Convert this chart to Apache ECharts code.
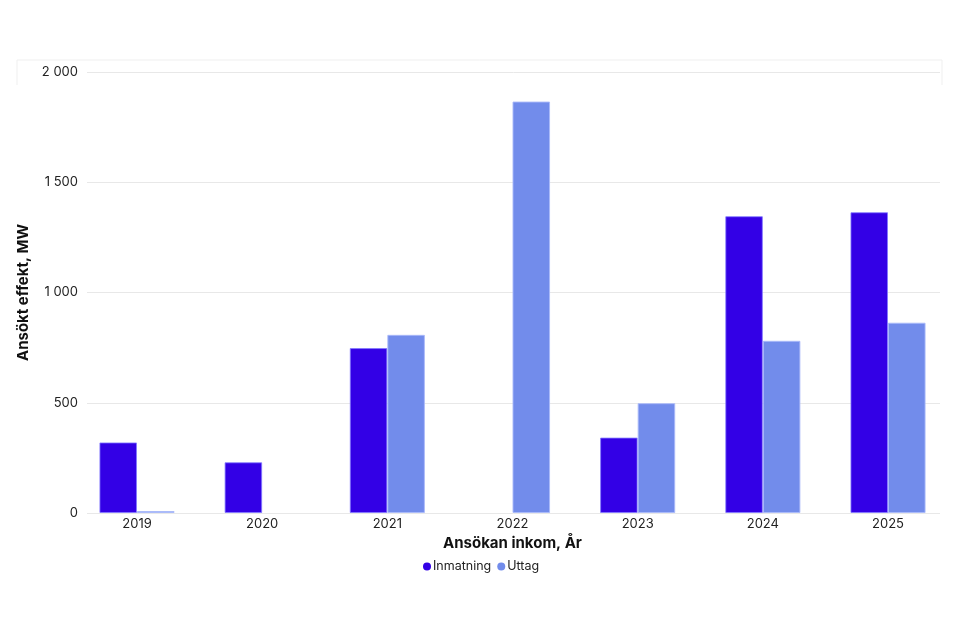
<!DOCTYPE html>
<html>
<head>
<meta charset="utf-8">
<script src="https://cdn.jsdelivr.net/npm/echarts@6/dist/echarts.min.js"></script>
<style>html,body{margin:0;padding:0;background:#fff}#c{width:960px;height:640px}</style>
</head>
<body>
<div id="c"></div>
<script>
var categories = ['2019', '2020', '2021', '2022', '2023', '2024', '2025'];
var inmatning = [320, 230, 748, null, 342, 1346, 1364];
var uttag = [9, null, 808, 1866, 498, 781, 863];
var yTicks = [0, 500, 1000, 1500, 2000];

var chart = echarts.init(document.getElementById('c'));
function fmt(v) { return String(v).replace(/\B(?=(\d{3})+(?!\d))/g, ' '); }
var font = 'Inter, "Noto Sans", sans-serif';
chart.setOption({
  animation: false,
  backgroundColor: '#fff',
  graphic: [{
    type: 'polyline',
    shape: { points: [[17, 85], [17, 60], [942, 60], [942, 85]] },
    style: { stroke: '#efefef', fill: null, lineWidth: 1 },
    silent: true
  }],
  legend: {
    left: 418, top: 555,
    icon: 'circle', itemWidth: 8, itemHeight: 8, itemGap: 6,
    itemStyle: { borderWidth: 0 },
    textStyle: { fontFamily: font, fontSize: 12.5, color: '#222', padding: [0, 0, 0, -3] },
    data: ['Inmatning', 'Uttag']
  },
  grid: [
    { left: 87, right: 20, top: 72, bottom: 127 },
    { left: 74.4, right: 9.4, top: 72, bottom: 127 }
  ],
  xAxis: [
    { type: 'value', gridIndex: 0, show: false, min: 0, max: 1 },
    {
      type: 'category', gridIndex: 1, data: categories,
      name: 'Ansökan inkom, År', nameLocation: 'middle', nameGap: 20,
      nameTextStyle: { fontFamily: font, fontSize: 15, fontWeight: 'bold', color: '#111' },
      axisLine: { show: false }, axisTick: { show: false },
      axisLabel: { margin: 5, fontFamily: font, fontSize: 13, color: '#222' }
    }
  ],
  yAxis: [
    {
      type: 'value', gridIndex: 0, min: 0, max: 2000, interval: 500,
      name: 'Ansökt effekt, MW', nameLocation: 'middle', nameGap: 52,
      nameTextStyle: { fontFamily: font, fontSize: 15, fontWeight: 'bold', color: '#111' },
      axisLine: { show: false }, axisTick: { show: false },
      axisLabel: { margin: 9, fontFamily: font, fontSize: 13, color: '#222',
        formatter: function (v) { return yTicks.indexOf(v) >= 0 ? fmt(v) : ''; } },
      splitLine: { lineStyle: { color: '#e8e8e8', width: 1 } }
    },
    { type: 'value', gridIndex: 1, min: 0, max: 2000, show: false, splitLine: { show: false } }
  ],
  series: [
    {
      name: 'Inmatning', type: 'bar', xAxisIndex: 1, yAxisIndex: 1,
      data: inmatning, barGap: '0%', barCategoryGap: '40%',
      itemStyle: { color: '#3300E6', borderColor: 'rgba(130,120,255,0.8)', borderWidth: 1 }
    },
    {
      name: 'Uttag', type: 'bar', xAxisIndex: 1, yAxisIndex: 1,
      data: uttag, barGap: '0%', barCategoryGap: '40%',
      itemStyle: { color: '#728CEB', borderColor: 'rgba(170,185,250,0.9)', borderWidth: 1 }
    }
  ]
});
</script>
</body>
</html>
